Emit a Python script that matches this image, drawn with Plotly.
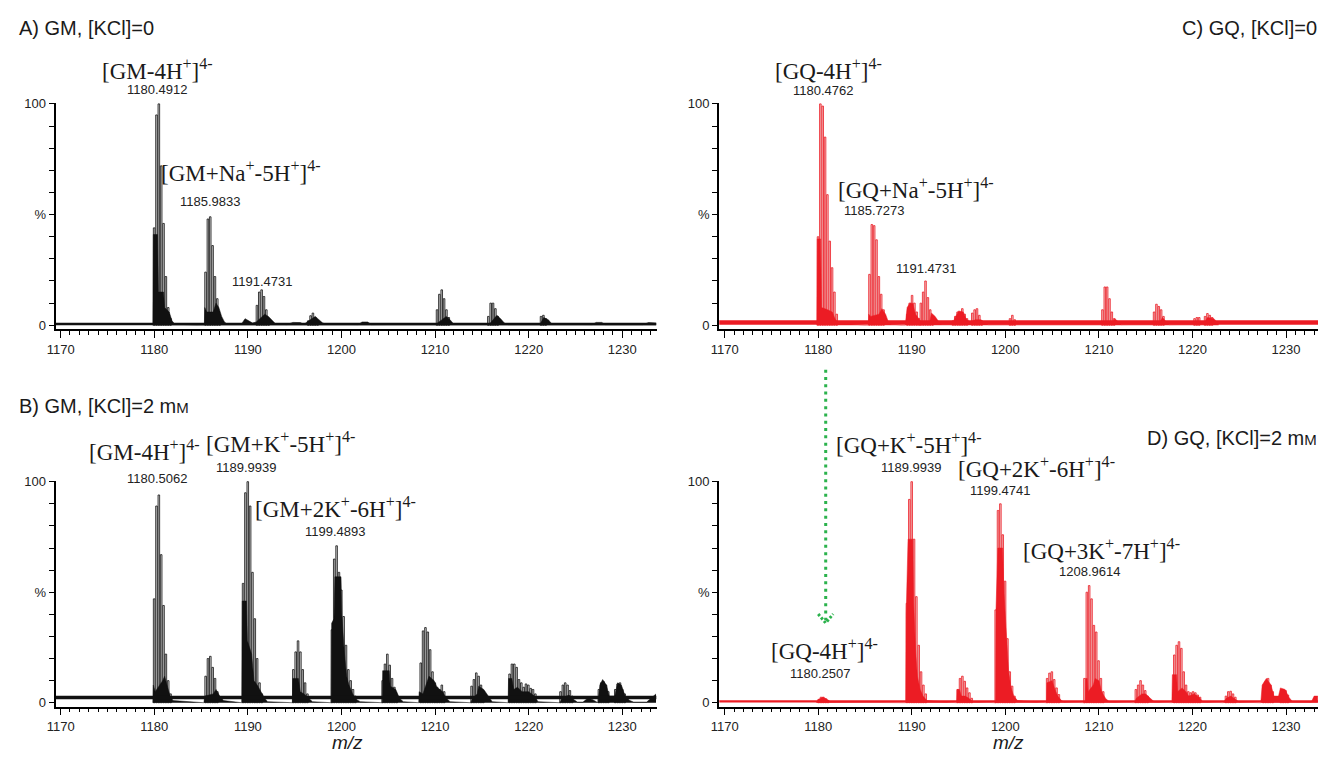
import plotly.graph_objects as go

# ------------------------------------------------------------------
# Spectral data: isotope peak centroids (m/z) and relative intensity (%)
# plus the unresolved base profile of each cluster.
# ------------------------------------------------------------------

# A) GM, [KCl]=0
A_PEAK_MZ = [1179.99, 1180.24, 1180.49, 1180.74, 1180.99, 1181.24, 1181.49, 1181.74,
             1185.48, 1185.73, 1185.98, 1186.23, 1186.48, 1186.73, 1186.98,
             1190.97, 1191.22, 1191.47, 1191.72, 1191.97, 1192.22,
             1196.45, 1196.70, 1196.95, 1197.20, 1197.45,
             1210.21, 1210.46, 1210.71, 1210.96, 1211.21, 1211.46,
             1215.69, 1215.94, 1216.19, 1216.44, 1216.69,
             1221.32, 1221.57, 1221.82]
A_PEAK_PCT = [44, 95, 100, 72, 46, 22, 8, 3,
              24, 48, 49, 36, 22, 12, 5,
              9, 15, 16, 13, 7, 3,
              2, 4.3, 5.5, 3.6, 2,
              7, 14, 16, 12, 7, 3.5,
              4, 10, 10, 7.5, 4,
              4, 4.5, 3]
A_BASE_MZ = [1179.85, 1179.9, 1180.35, 1180.45, 1181.0, 1181.1, 1181.6, 1181.9, 1182.2,
             1185.35, 1185.4, 1185.6, 1186.3, 1186.6, 1186.9, 1187.2, 1187.5, 1187.8,
             1189.3, 1189.7, 1190.1, 1190.5, 1190.9, 1191.8, 1192.2, 1192.6, 1193.0,
             1194.2, 1194.8, 1195.6, 1196.0, 1196.5, 1197.2, 1197.6, 1198.0, 1198.4,
             1201.8, 1202.2, 1202.8, 1203.2,
             1210.1, 1211.2, 1211.6, 1212.0,
             1215.8, 1216.6, 1217.0, 1217.4, 1217.8,
             1221.2, 1221.6, 1222.1, 1222.5,
             1226.8, 1227.2, 1227.8, 1228.2,
             1232.2, 1232.8, 1233.6]
A_BASE_PCT = [0, 41, 41, 15, 15, 8, 6, 2, 0.5,
              0, 8, 6, 6, 10, 8, 4, 1.5, 0.5,
              0.5, 3, 2, 1, 1.5, 5, 4, 2, 0.5,
              0.3, 1.3, 1.2, 0.5, 2, 4, 2.5, 1, 0.5,
              0.3, 1.5, 1.5, 0.3,
              0.5, 4, 2.5, 0.5,
              0.5, 4.5, 3, 1, 0.3,
              0.3, 3.5, 2.5, 0.5,
              0.3, 1.3, 1.3, 0.3,
              0.3, 1.2, 1.0]

# B) GM, [KCl]=2 mM
B_PEAK_MZ = [1179.99, 1180.24, 1180.49, 1180.74, 1180.99, 1181.24, 1181.49, 1181.74,
             1185.49, 1185.74, 1185.99, 1186.24, 1186.49, 1186.74,
             1189.49, 1189.74, 1189.99, 1190.24, 1190.49, 1190.74, 1190.99, 1191.24, 1191.49,
             1194.86, 1195.11, 1195.36, 1195.61, 1195.86, 1196.11, 1196.36,
             1198.98, 1199.23, 1199.48, 1199.73, 1199.98, 1200.23, 1200.48, 1200.73, 1200.98, 1201.23, 1201.48,
             1204.40, 1204.65, 1204.90, 1205.15, 1205.40, 1205.65, 1205.90,
             1208.47, 1208.72, 1208.97, 1209.22, 1209.47, 1209.72, 1209.97, 1210.22, 1210.47, 1210.72, 1210.97,
             1213.90, 1214.15, 1214.40, 1214.65, 1214.90, 1215.15,
             1217.96, 1218.21, 1218.46, 1218.71, 1218.96, 1219.21, 1219.46, 1219.71, 1219.96, 1220.21, 1220.46, 1220.71,
             1223.40, 1223.65, 1223.90, 1224.15, 1224.40, 1224.65,
             1227.50, 1227.75, 1228.00, 1228.25, 1228.50,
             1229.25, 1229.50, 1229.75, 1230.00, 1230.25]
B_PEAK_PCT = [47, 89, 94, 67, 44, 22, 10, 4,
              12, 20, 21, 16, 11, 5,
              54, 95, 100, 89, 59, 38, 20, 9, 4,
              15, 23, 28, 23, 15, 9, 4,
              33, 65, 71, 59, 51, 39, 26, 15, 10, 6, 3,
              10, 17.5, 22, 17, 11, 7, 3,
              18, 32.5, 34, 32, 24, 14, 9, 7, 6, 8, 5,
              7.5, 10.5, 13.5, 12, 8, 4,
              13, 17.5, 17.5, 16, 10.5, 9, 7, 8.5, 8, 6.5, 6, 4,
              5, 8, 9, 8, 5.5, 3,
              6, 9, 9.5, 8, 5,
              6, 8.5, 9, 6, 4]
B_BASE_MZ = [1179.85, 1179.9, 1180.1, 1180.9, 1181.1, 1181.4, 1181.7, 1182.0,
             1185.3, 1185.4, 1186.3, 1186.6, 1187.0, 1187.4,
             1189.35, 1189.4, 1189.85, 1189.95, 1190.4, 1190.65, 1191.0, 1191.4, 1191.8, 1192.1,
             1194.75, 1194.8, 1195.4, 1195.6, 1196.0, 1196.5, 1196.9,
             1198.9, 1198.95, 1199.2, 1199.3, 1199.95, 1200.05, 1200.3, 1200.55, 1200.8, 1201.2, 1201.6, 1202.0,
             1204.35, 1204.4, 1205.1, 1205.2, 1205.8, 1206.2, 1206.6,
             1208.25, 1208.3, 1208.7, 1209.35, 1209.9, 1210.2, 1210.8, 1211.2, 1211.6,
             1213.8, 1214.0, 1214.5, 1214.65, 1215.2, 1215.7, 1216.1,
             1217.8, 1217.85, 1218.2, 1218.4, 1218.8, 1219.3, 1220.0, 1220.6, 1221.0,
             1223.3, 1223.6, 1224.3, 1224.8, 1225.2,
             1225.8, 1226.3, 1226.8, 1227.2,
             1227.4, 1227.6, 1227.9, 1228.3, 1228.6, 1229.2, 1229.5, 1229.9, 1230.3, 1230.8, 1231.2,
             1232.6, 1233.1, 1233.6]
B_BASE_PCT = [0, 8, 5, 10, 12, 8, 3, 1,
              0, 3, 4, 6, 3, 1,
              0, 46, 46, 28, 22, 10, 8, 5, 2, 0.5,
              0, 11, 11, 5, 4, 2, 0.5,
              0, 36, 38, 57, 57, 39, 23, 12, 8, 4, 1.5, 0.5,
              0, 14.5, 14.5, 7.5, 6, 2, 0.5,
              0, 5, 4, 12, 10, 7, 5, 2, 0.5,
              0, 2, 4, 7.5, 6, 3, 0.5,
              0, 11, 11, 6, 7, 5, 5, 3, 0.5,
              0, 2, 3.5, 1.5, 0.3,
              0.3, 2, 1.5, 0.3,
              0, 8, 10.5, 8, 3, 3, 9, 8, 3, 1, 0.3,
              0.3, 2, 4]

# C) GQ, [KCl]=0
C_PEAK_MZ = [1179.98, 1180.23, 1180.48, 1180.73, 1180.98, 1181.23, 1181.48, 1181.73, 1181.98,
             1185.48, 1185.73, 1185.98, 1186.23, 1186.48, 1186.73, 1186.98,
             1189.53, 1189.78, 1190.03, 1190.28, 1190.53, 1190.78,
             1190.97, 1191.22, 1191.47, 1191.72, 1191.97, 1192.22,
             1194.40, 1194.65, 1194.90, 1195.15, 1195.40, 1195.65, 1195.90,
             1196.47, 1196.72, 1196.97, 1197.22, 1197.47,
             1200.50, 1200.75, 1201.00,
             1210.38, 1210.63, 1210.88, 1211.13, 1211.38, 1211.63,
             1215.90, 1216.15, 1216.40, 1216.65, 1216.90,
             1220.22, 1220.47, 1220.72, 1221.35, 1221.60, 1221.85, 1222.10]
C_PEAK_PCT = [40, 100, 99, 85, 59, 38, 26, 15, 5,
              23, 45.5, 45, 38.6, 22, 14, 7,
              5, 10, 13.5, 10, 6, 3,
              10, 15, 20, 12.5, 7, 3.5,
              2, 4, 6, 6, 7.5, 5, 3,
              5.5, 7, 7.5, 4.5, 2,
              3, 4.5, 2.5,
              7, 17.3, 17.3, 12, 6, 3,
              6, 9.5, 8.5, 7, 4,
              3, 3.5, 3.5, 4, 5.3, 4.5, 3.5]
C_BASE_MZ = [1179.85, 1179.9, 1180.25, 1180.35, 1181.0, 1181.5, 1181.8, 1182.1,
             1185.35, 1185.4, 1185.6, 1186.5, 1186.8, 1187.2, 1187.5, 1187.8,
             1189.3, 1189.5, 1189.8, 1190.1, 1190.4, 1190.7, 1191.0,
             1191.9, 1192.1, 1192.5, 1192.9, 1193.2,
             1194.3, 1194.7, 1195.0, 1195.5, 1195.8, 1196.2, 1196.8, 1197.4, 1197.8, 1198.2,
             1211.4, 1211.7, 1212.1, 1212.4,
             1216.4, 1216.8, 1217.2, 1217.5,
             1221.2, 1221.6, 1222.3, 1222.8]
C_BASE_PCT = [0, 39, 39, 8, 7, 6, 3, 1,
              0, 5, 4, 5, 7.5, 5, 1.5, 0.5,
              0, 8, 10, 10, 5, 3, 1.5,
              1, 5.5, 4, 1.5, 0.5,
              0.5, 4, 6.5, 6, 3, 1.5, 2.5, 2.5, 1, 0.3,
              0.5, 3, 1.5, 0.3,
              0.5, 3.5, 1.5, 0.3,
              0.5, 3.5, 3, 0.5]

# D) GQ, [KCl]=2 mM
D_PEAK_MZ = [1180.05, 1180.30, 1180.55, 1180.80, 1181.05,
             1189.49, 1189.74, 1189.99, 1190.24, 1190.49, 1190.74, 1190.99, 1191.24, 1191.49,
             1194.91, 1195.16, 1195.41, 1195.66, 1195.91, 1196.16, 1196.41,
             1198.97, 1199.22, 1199.47, 1199.72, 1199.97, 1200.22, 1200.47, 1200.72, 1200.97,
             1204.47, 1204.72, 1204.97, 1205.22, 1205.47, 1205.72,
             1208.46, 1208.71, 1208.96, 1209.21, 1209.46, 1209.71, 1209.96, 1210.21, 1210.46,
             1213.95, 1214.20, 1214.45, 1214.70, 1214.95, 1215.20,
             1218.06, 1218.31, 1218.56, 1218.81, 1219.06, 1219.31, 1219.56, 1219.81, 1220.06, 1220.31, 1220.56, 1220.81,
             1223.58, 1223.83, 1224.08, 1224.33, 1224.58,
             1227.58, 1227.83, 1228.08, 1228.33, 1228.58,
             1229.45, 1229.70, 1229.95, 1230.20]
D_PEAK_PCT = [1.5, 2.5, 2.5, 1.8, 1,
              45, 92, 100, 74, 48, 26, 14, 8, 4,
              6, 11, 12, 9.7, 6.7, 4.5, 2,
              42, 87, 90, 76, 55, 29, 14, 7.5, 3,
              11, 13.4, 14, 10.5, 6.7, 3.7,
              11, 50, 53, 47, 35, 32, 19, 11, 5,
              6, 8, 10, 8, 5.5, 3,
              21.6, 26, 27.6, 24.6, 14, 8, 5, 4.5, 5, 4.5, 3.5, 2.5,
              3, 5, 5.2, 4, 2.5,
              5, 9.7, 11, 8, 5,
              4.5, 6, 5.5, 3.5]
D_BASE_MZ = [1179.8, 1180.0, 1180.5, 1181.0, 1181.3,
             1189.35, 1189.4, 1189.6, 1190.1, 1190.2, 1190.4, 1190.6, 1190.9, 1191.2, 1191.6,
             1194.8, 1194.85, 1195.1, 1195.3, 1195.7, 1196.1, 1196.5,
             1198.95, 1199.0, 1199.2, 1199.7, 1199.85, 1200.1, 1200.35, 1200.6, 1200.9, 1201.3,
             1204.4, 1204.45, 1205.0, 1205.3, 1205.6, 1206.0, 1206.3,
             1208.55, 1208.6, 1208.75, 1208.85, 1209.4, 1209.6, 1210.0, 1210.3, 1210.7, 1211.1,
             1213.8, 1214.0, 1214.6, 1215.0, 1215.5, 1215.9,
             1217.8, 1217.85, 1218.3, 1218.4, 1218.9, 1219.3, 1219.6, 1220.2, 1220.7, 1221.1,
             1223.3, 1223.6, 1224.1, 1224.6, 1225.0,
             1227.3, 1227.45, 1227.9, 1228.4, 1228.7, 1229.2, 1229.4, 1229.9, 1230.3, 1230.7,
             1232.7, 1233.0, 1233.4]
D_BASE_PCT = [0, 1.5, 2.5, 1.5, 0.3,
              0, 40, 74, 74, 45, 24, 12, 6, 3, 1,
              0, 6, 6, 3, 3, 2, 0.5,
              0, 42, 70, 70, 50, 29, 14, 7, 3, 1,
              0, 9, 10, 6, 3, 1, 0.3,
              0, 11, 11, 5, 8, 11, 10, 5, 2, 0.5,
              0, 2, 4, 4, 2, 0.5,
              0, 12.7, 12.7, 5, 6.7, 5, 3, 4, 2.5, 0.5,
              0, 2, 3, 1.5, 0.3,
              0, 8, 11, 8, 3, 3, 6.7, 6, 2.5, 0.5,
              0.3, 3, 3]

# noise floor of each trace: level (%) and band thickness (px)
NOISE_LEVEL = {"A": 0.6, "B": 2.4, "C": 1.3, "D": 0.6}
NOISE_BAND = {"A": 2.6, "B": 3.6, "C": 4.5, "D": 2.2}

# ------------------------------------------------------------------
# Text
# ------------------------------------------------------------------
SMALL_M = "m<span style='font-size:15px'>M</span>"
PANEL_TITLES = {
    "A": "A) GM, [KCl]=0",
    "B": "B) GM, [KCl]=2 " + SMALL_M,
    "C": "C) GQ, [KCl]=0",
    "D": "D) GQ, [KCl]=2 " + SMALL_M,
}
# (panel, label, m/z position, height in % of the panel scale)
ION_LABELS = [
    ("A", "[GM-4H<sup>+</sup>]<sup>4-</sup>", 1180.40, 115.5),
    ("A", "[GM+Na<sup>+</sup>-5H<sup>+</sup>]<sup>4-</sup>", 1189.30, 69.4),
    ("B", "[GM-4H<sup>+</sup>]<sup>4-</sup>", 1178.99, 114.0),
    ("B", "[GM+K<sup>+</sup>-5H<sup>+</sup>]<sup>4-</sup>", 1193.45, 117.6),
    ("B", "[GM+2K<sup>+</sup>-6H<sup>+</sup>]<sup>4-</sup>", 1199.39, 88.2),
    ("C", "[GQ-4H<sup>+</sup>]<sup>4-</sup>", 1181.08, 115.6),
    ("C", "[GQ+Na<sup>+</sup>-5H<sup>+</sup>]<sup>4-</sup>", 1190.50, 62.0),
    ("D", "[GQ+K<sup>+</sup>-5H<sup>+</sup>]<sup>4-</sup>", 1189.70, 117.3),
    ("D", "[GQ+2K<sup>+</sup>-6H<sup>+</sup>]<sup>4-</sup>", 1203.37, 106.3),
    ("D", "[GQ+3K<sup>+</sup>-7H<sup>+</sup>]<sup>4-</sup>", 1210.28, 69.4),
    ("D", "[GQ-4H<sup>+</sup>]<sup>4-</sup>", 1180.63, 24.2),
]
MZ_LABELS = [
    ("A", "1180.4912", 1180.40, 106.4),
    ("A", "1185.9833", 1185.97, 55.9),
    ("A", "1191.4731", 1191.57, 19.6),
    ("B", "1180.5062", 1180.40, 101.4),
    ("B", "1189.9939", 1189.84, 106.4),
    ("B", "1199.4893", 1199.39, 77.4),
    ("C", "1180.4762", 1180.55, 106.0),
    ("C", "1185.7273", 1186.04, 51.7),
    ("C", "1191.4731", 1191.59, 25.6),
    ("D", "1189.9939", 1189.97, 106.6),
    ("D", "1199.4741", 1199.51, 96.2),
    ("D", "1208.9614", 1209.00, 59.3),
    ("D", "1180.2507", 1180.29, 13.4),
]
X_TICKS = [1170, 1180, 1190, 1200, 1210, 1220, 1230]
Y_TICKS = [0, 50, 100]
Y_TICKTEXT = ["0", "%", "100"]

# depletion arrow in panel D points at the free [GQ-4H+]4- position
ARROW_MZ = 1180.8

# ------------------------------------------------------------------
# Layout geometry
# ------------------------------------------------------------------
W, H = 1322, 758
BLACK = "#111111"
RED = "#ec1c24"
GREEN = "#2bb24c"
SANS = "Liberation Sans, Arial, sans-serif"
SERIF = "Liberation Serif, Times New Roman, serif"

PANELS = {
    #      xaxis  yaxis  x-domain            y-domain           x-range              colour
    "A": ("x", "y", [0.03555, 0.4932], [0.5686, 0.8715], [1169.47, 1233.66], "black"),
    "C": ("x2", "y2", [0.54085, 0.99697], [0.5686, 0.8715], [1169.41, 1233.42], "red"),
    "B": ("x3", "y3", [0.03555, 0.4932], [0.0633, 0.3657], [1169.47, 1233.66], "black"),
    "D": ("x4", "y4", [0.54085, 0.99697], [0.0633, 0.3657], [1169.41, 1233.42], "red"),
}
Y_RANGE = [-1.8, 100.4]

DATA = {
    "A": (A_PEAK_MZ, A_PEAK_PCT, A_BASE_MZ, A_BASE_PCT),
    "B": (B_PEAK_MZ, B_PEAK_PCT, B_BASE_MZ, B_BASE_PCT),
    "C": (C_PEAK_MZ, C_PEAK_PCT, C_BASE_MZ, C_BASE_PCT),
    "D": (D_PEAK_MZ, D_PEAK_PCT, D_BASE_MZ, D_BASE_PCT),
}

STYLE = {
    "black": dict(edge=BLACK, inner="#d4d4d4", fill=BLACK),
    "red": dict(edge=RED, inner="#f1c1c1", fill=RED),
}


def pct_to_paper(panel, pct):
    """Vertical position of a % value of a panel, in paper units."""
    y0, y1 = PANELS[panel][3]
    return y0 + (pct - Y_RANGE[0]) / (Y_RANGE[1] - Y_RANGE[0]) * (y1 - y0)


fig = go.Figure()

for key, (xa, ya, xd, yd, xr, col) in PANELS.items():
    pk_mz, pk_pct, bs_mz, bs_pct = DATA[key]
    st = STYLE[col]
    # isotope peaks as narrow outlined sticks
    fig.add_trace(go.Bar(
        x=pk_mz, y=pk_pct, width=0.17, xaxis=xa, yaxis=ya,
        marker=dict(color=st["inner"], line=dict(color=st["edge"], width=0.8)),
        hoverinfo="skip", showlegend=False,
    ))
    # unresolved profile underneath the clusters
    fig.add_trace(go.Scatter(
        x=bs_mz, y=bs_pct, xaxis=xa, yaxis=ya, mode="lines",
        line=dict(width=0.5, color=st["fill"]), fill="tozeroy", fillcolor=st["fill"],
        hoverinfo="skip", showlegend=False,
    ))
    # noise floor
    fig.add_trace(go.Scatter(
        x=xr, y=[NOISE_LEVEL[key]] * 2, xaxis=xa, yaxis=ya, mode="lines",
        line=dict(width=NOISE_BAND[key], color=st["fill"]), hoverinfo="skip", showlegend=False,
    ))

axis_common_x = dict(
    showgrid=False, zeroline=False, showline=True, linecolor="black", linewidth=1.5,
    ticks="outside", ticklen=7, tickwidth=1.2, tickcolor="black",
    tickmode="array", tickvals=X_TICKS,
    tickfont=dict(family=SANS, size=13, color="#222222"),
    minor=dict(dtick=1, tick0=1170, ticklen=4, tickwidth=1, tickcolor="black", ticks="outside"),
    fixedrange=True,
)
axis_common_y = dict(
    showgrid=False, zeroline=False, showline=True, linecolor="black", linewidth=2,
    ticks="outside", ticklen=5, tickwidth=1.2, tickcolor="black",
    tickmode="array", tickvals=Y_TICKS, ticktext=Y_TICKTEXT, range=Y_RANGE,
    tickfont=dict(family=SANS, size=13, color="#222222"),
    minor=dict(dtick=10, tick0=0, ticklen=5, tickwidth=1.2, tickcolor="black", ticks="outside"),
    fixedrange=True,
)

layout_axes = {}
for key, (xa, ya, xd, yd, xr, col) in PANELS.items():
    xn = "xaxis" + xa[1:]
    yn = "yaxis" + ya[1:]
    layout_axes[xn] = dict(axis_common_x, domain=xd, range=xr, anchor=ya)
    layout_axes[yn] = dict(axis_common_y, domain=yd, anchor=xa)

fig.update_layout(
    width=W, height=H, margin=dict(l=0, r=0, t=0, b=0),
    paper_bgcolor="white", plot_bgcolor="white",
    barmode="overlay", showlegend=False,
    font=dict(family=SANS, color="#222222"),
    **layout_axes,
)

annotations = []
TITLE_FONT = dict(family=SANS, size=20, color="#1a1a1a")
for key, xpos, anchor, ypix in (("A", 0.006, "left", 21), ("C", 0.998, "right", 21),
                                ("B", 0.006, "left", 405), ("D", 0.998, "right", 437)):
    annotations.append(dict(text=PANEL_TITLES[key], x=xpos, y=1 - ypix / H,
                            xref="paper", yref="paper", xanchor=anchor, yanchor="middle",
                            showarrow=False, font=TITLE_FONT))

for panel, text, mz, pct in ION_LABELS:
    annotations.append(dict(text=text, x=mz, y=pct_to_paper(panel, pct),
                            xref=PANELS[panel][0], yref="paper", xanchor="center",
                            yanchor="middle", showarrow=False,
                            font=dict(family=SERIF, size=23, color="#1a1a1a")))
for panel, text, mz, pct in MZ_LABELS:
    annotations.append(dict(text=text, x=mz, y=pct_to_paper(panel, pct),
                            xref=PANELS[panel][0], yref="paper", xanchor="center",
                            yanchor="middle", showarrow=False,
                            font=dict(family=SANS, size=13, color="#222222")))

# axis titles under the lower panels
for xa, mz in (("x3", 1200.6), ("x4", 1200.3)):
    annotations.append(dict(text="<i>m/z</i>", x=mz, y=1 - 746 / H,
                            xref=xa, yref="paper", xanchor="center", yanchor="middle",
                            showarrow=False, font=dict(family=SANS, size=19, color="#1a1a1a")))

fig.update_layout(annotations=annotations)

# green dotted arrow from panel C down to panel D
ARROW_TOP = 1 - 368 / H
ARROW_TIP = 1 - 625 / H
DOT = "3px,4.3px"
fig.add_shape(type="line", xref="x4", yref="paper", x0=ARROW_MZ, x1=ARROW_MZ,
              y0=ARROW_TOP, y1=ARROW_TIP + 3 / H,
              line=dict(color=GREEN, width=3, dash=DOT))
fig.add_shape(type="path", xref="x4", yref="paper",
              path=f"M {ARROW_MZ - 0.8},{ARROW_TIP + 9 / H} L {ARROW_MZ},{ARROW_TIP} "
                   f"L {ARROW_MZ + 0.8},{ARROW_TIP + 9 / H}",
              line=dict(color=GREEN, width=3, dash="2.5px,2px"))

fig.write_html("out.html")
